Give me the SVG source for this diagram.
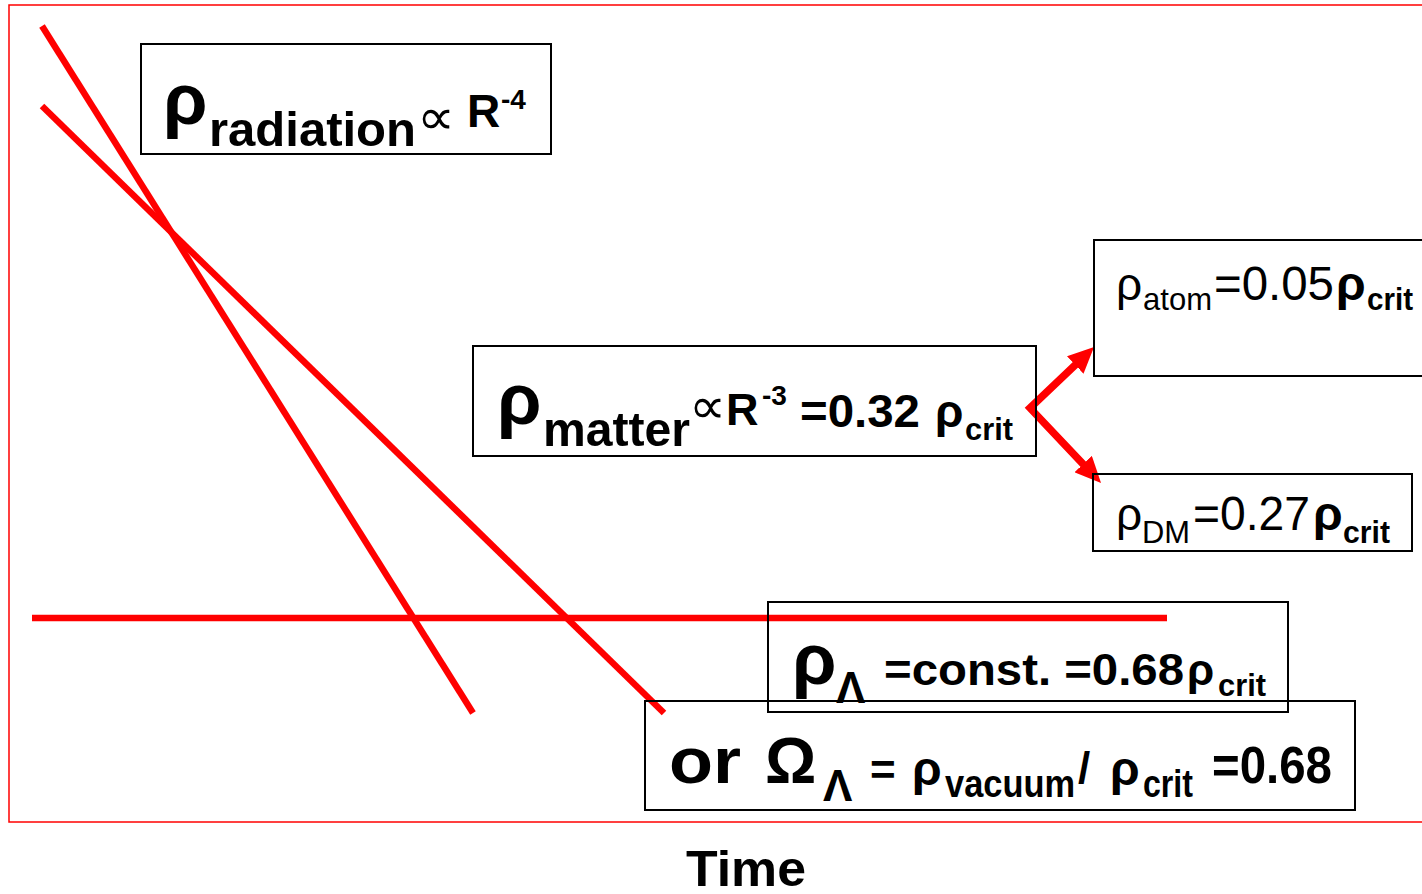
<svg xmlns="http://www.w3.org/2000/svg" width="1422" height="894" viewBox="0 0 1422 894">
  <style>
    .box { fill: none; stroke: #000000; stroke-width: 2; }
    .t { font-family: "Liberation Sans", Arial, "DejaVu Sans", sans-serif; fill: #000000; }
    .b { font-weight: bold; }
    .prop { font-family: "DejaVu Sans", sans-serif; fill: #000000; }
    .curve { stroke: #ff0000; stroke-width: 6.5; fill: none; }
    .branch { stroke: #ff0000; stroke-width: 7.5; fill: none; stroke-linejoin: miter; }
  </style>
  <defs>
    <marker id="head" markerUnits="userSpaceOnUse" markerWidth="26" markerHeight="24" refX="12" refY="12" orient="auto-start-reverse">
      <path d="M0,0 L26,12 L0,24 Z" fill="#ff0000"/>
    </marker>
  </defs>

  <rect width="1422" height="894" fill="#ffffff"/>
  <!-- plot frame -->
  <rect x="9" y="5" width="1430" height="817" fill="none" stroke="#ff0000" stroke-width="1.5"/>

  <!-- density curves and branch arrows -->
  <g id="connectors">
    <line class="curve" x1="42" y1="26" x2="473" y2="713"/>
    <line class="curve" x1="42" y1="106" x2="664" y2="713"/>
    <line class="curve" x1="32" y1="618" x2="1167" y2="618"/>
    <path class="branch" d="M1083.9,356.7 L1030,408 L1091.4,472.8" marker-start="url(#head)" marker-end="url(#head)"/>
  </g>

  <g id="radiation">
    <rect class="box" x="141" y="44" width="410" height="110"/>
    <text class="t b" x="163" y="124" font-size="72">ρ</text>
    <text class="t b" x="209" y="146" font-size="48" textLength="207" lengthAdjust="spacingAndGlyphs">radiation</text>
    <text class="prop" x="417" y="134" font-size="50" textLength="38" lengthAdjust="spacingAndGlyphs">∝</text>
    <text class="t b" x="467" y="127" font-size="46">R</text>
    <text class="t b" x="501" y="109" font-size="28">-4</text>
  </g>

  <g id="matter">
    <rect class="box" x="473" y="346" width="563" height="110"/>
    <text class="t b" x="497" y="424" font-size="72">ρ</text>
    <text class="t b" x="543" y="446" font-size="48" textLength="147" lengthAdjust="spacingAndGlyphs">matter</text>
    <text class="prop" x="689" y="423" font-size="50" textLength="37" lengthAdjust="spacingAndGlyphs">∝</text>
    <text class="t b" x="726" y="425" font-size="45">R</text>
    <text class="t b" x="762" y="405" font-size="28">-3</text>
    <text class="t b" x="800" y="427" font-size="46" textLength="120" lengthAdjust="spacingAndGlyphs">=0.32</text>
    <text class="t b" x="935" y="427" font-size="46">ρ</text>
    <text class="t b" x="965" y="440" font-size="32" textLength="48" lengthAdjust="spacingAndGlyphs">crit</text>
  </g>

  <g id="atom">
    <rect class="box" x="1094" y="240" width="340" height="136"/>
    <text class="t" x="1116" y="300" font-size="46">ρ</text>
    <text class="t" x="1143" y="310" font-size="32" textLength="69" lengthAdjust="spacingAndGlyphs">atom</text>
    <text class="t" x="1214" y="300" font-size="48" textLength="120" lengthAdjust="spacingAndGlyphs">=0.05</text>
    <text class="t b" x="1336" y="300" font-size="48">ρ</text>
    <text class="t b" x="1367" y="310" font-size="32" textLength="46" lengthAdjust="spacingAndGlyphs">crit</text>
  </g>

  <g id="dark-matter">
    <rect class="box" x="1093" y="474" width="319" height="77"/>
    <text class="t" x="1116" y="530" font-size="46">ρ</text>
    <text class="t" x="1142" y="543" font-size="32" textLength="48" lengthAdjust="spacingAndGlyphs">DM</text>
    <text class="t" x="1193" y="530" font-size="48" textLength="117" lengthAdjust="spacingAndGlyphs">=0.27</text>
    <text class="t b" x="1313" y="530" font-size="48">ρ</text>
    <text class="t b" x="1343" y="543" font-size="32" textLength="47" lengthAdjust="spacingAndGlyphs">crit</text>
  </g>

  <g id="lambda">
    <rect class="box" x="768" y="602" width="520" height="110"/>
    <text class="t b" x="792" y="684" font-size="72">ρ</text>
    <text class="t b" x="836" y="703" font-size="44">Λ</text>
    <text class="t b" x="884" y="685" font-size="44" textLength="300" lengthAdjust="spacingAndGlyphs">=const. =0.68</text>
    <text class="t b" x="1187" y="685" font-size="44">ρ</text>
    <text class="t b" x="1218" y="696" font-size="32" textLength="48" lengthAdjust="spacingAndGlyphs">crit</text>
  </g>

  <g id="omega">
    <rect class="box" x="645" y="701" width="710" height="109"/>
    <text class="t b" x="669" y="783" font-size="64" textLength="72" lengthAdjust="spacingAndGlyphs">or</text>
    <text class="t b" x="765" y="783" font-size="64">Ω</text>
    <text class="t b" x="823" y="801" font-size="44">Λ</text>
    <text class="t b" x="870" y="785" font-size="44">=</text>
    <text class="t b" x="912" y="785" font-size="48">ρ</text>
    <text class="t b" x="945" y="797" font-size="38" textLength="130" lengthAdjust="spacingAndGlyphs">vacuum</text>
    <text class="t b" x="1078" y="783" font-size="44">/</text>
    <text class="t b" x="1110" y="785" font-size="48">ρ</text>
    <text class="t b" x="1143" y="797" font-size="38" textLength="50" lengthAdjust="spacingAndGlyphs">crit</text>
    <text class="t b" x="1212" y="783" font-size="52" textLength="120" lengthAdjust="spacingAndGlyphs">=0.68</text>
  </g>

  <g id="axis-label">
    <text class="t b" x="686" y="886" font-size="50" textLength="120" lengthAdjust="spacingAndGlyphs">Time</text>
  </g>
</svg>
